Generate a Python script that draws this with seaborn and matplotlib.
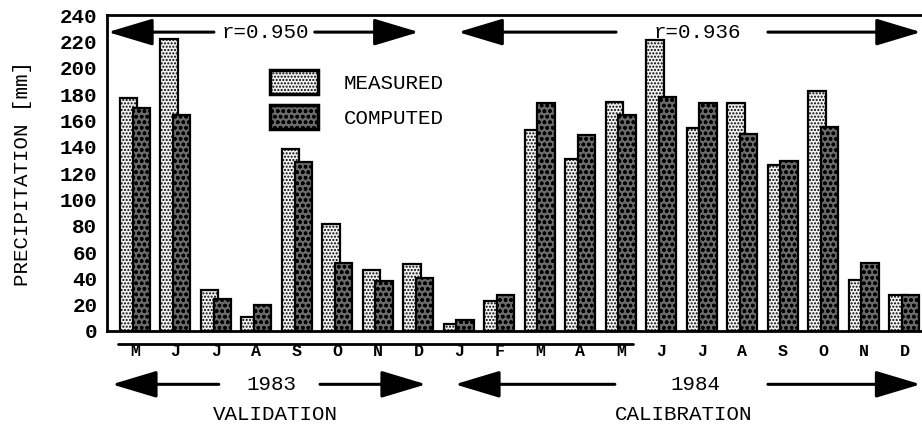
import matplotlib
matplotlib.use("Agg")
import matplotlib.pyplot as plt
import seaborn as sns
import pandas as pd

# monthly precipitation, May 1983 - Dec 1984
months = ['M', 'J', 'J', 'A', 'S', 'O', 'N', 'D',
          'J', 'F', 'M', 'A', 'M', 'J', 'J', 'A', 'S', 'O', 'N', 'D']
measured = [177, 222, 31, 11, 138, 81, 46, 51,
            5, 23, 153, 131, 174, 221, 154, 173, 126, 182, 39, 27]
computed = [169, 164, 24, 20, 128, 52, 38, 40,
            8, 27, 173, 149, 164, 178, 173, 150, 129, 155, 52, 27]
series = ['MEASURED', 'COMPUTED']
r_values = ['r=0.950', 'r=0.936']
years = ['1983', '1984']
periods = ['VALIDATION', 'CALIBRATION']

df = pd.DataFrame({
    'slot': list(range(len(months))) * 2,
    'value': measured + computed,
    'series': [series[0]] * len(months) + [series[1]] * len(months),
})

sns.set_style('white')
plt.rcParams['font.family'] = ['Liberation Mono', 'DejaVu Sans Mono']
plt.rcParams['text.color'] = 'black'
plt.rcParams['axes.labelcolor'] = 'black'
plt.rcParams['xtick.color'] = 'black'
plt.rcParams['ytick.color'] = 'black'

fig = plt.figure(figsize=(9.22, 4.24), dpi=100)
ax = fig.add_axes([107 / 922, 1 - 331 / 424, 814 / 922, 316 / 424])

sns.barplot(data=df, x='slot', y='value', hue='series', hue_order=series,
            palette=['#f2f2f2', '#6a6a6a'], width=0.75, ax=ax,
            edgecolor='black', linewidth=1.6, saturation=1)

# bars overlap a little, like the original drawing
hatches = ['.....', 'ooo']
for k, cont in enumerate(ax.containers):
    for p in cont.patches:
        c = p.get_x() + p.get_width() * (1 if k == 0 else 0)
        w = 0.43
        if k == 0:
            p.set_x(c - 0.155 - w / 2)
        else:
            p.set_x(c + 0.155 - w / 2)
        p.set_width(w)
        p.set_hatch(hatches[k])

ax.set_xlim(-0.69, 19.41)
ax.set_ylim(0, 240)
ax.set_yticks(range(0, 241, 20))
ax.set_xticks(range(len(months)))
ax.set_xticklabels(months, fontsize=12, fontweight='bold')
ax.tick_params(axis='x', length=0, pad=9)
ax.tick_params(axis='y', direction='out', length=4, width=4, labelsize=15, pad=3)
for t in ax.get_yticklabels():
    t.set_fontweight('bold')
ax.set_xlabel('')
ax.set_ylabel('PRECIPITATION [mm]', fontsize=15, labelpad=20)

for side in ['left', 'bottom', 'top']:
    ax.spines[side].set_linewidth(2)
    ax.spines[side].set_color('black')
ax.spines['right'].set_visible(False)

leg = ax.legend(loc='upper left', bbox_to_anchor=(0.188, 0.86), frameon=False,
                fontsize=15, handlelength=2.26, handleheight=1.4,
                labelspacing=0.55, handletextpad=1.25, borderpad=0)
for h, hatch in zip(leg.legend_handles, hatches):
    h.set_linewidth(2.5)
    h.set_hatch(hatch)

# line under the axis
ax.plot([-0.42, 12.3], [-9.5, -9.5], color='black', lw=2, clip_on=False)

arrow = dict(arrowstyle='-|>,head_length=2.0,head_width=0.6', color='black',
             lw=2.2, mutation_scale=14, shrinkA=0, shrinkB=0)


def span(y, lt, lb, tc, rb, rt, label):
    ax.annotate('', xy=(lt, y), xytext=(lb, y), arrowprops=arrow,
                annotation_clip=False)
    ax.annotate('', xy=(rt, y), xytext=(rb, y), arrowprops=arrow,
                annotation_clip=False)
    ax.text(tc, y, label, ha='center', va='center', fontsize=15,
            clip_on=False)


span(227, -0.667, 1.95, 3.23, 4.44, 7.01, r_values[0])
span(227, 7.98, 11.88, 13.88, 15.63, 19.41, r_values[1])
span(-40.5, -0.57, 2.07, 3.38, 4.57, 7.19, years[0])
span(-40.5, 7.9, 11.85, 13.85, 15.63, 19.4, years[1])
ax.text(3.48, -63.5, periods[0], ha='center', va='center', fontsize=15, clip_on=False)
ax.text(13.56, -63.5, periods[1], ha='center', va='center', fontsize=15, clip_on=False)

fig.savefig('out.png', dpi=100)
